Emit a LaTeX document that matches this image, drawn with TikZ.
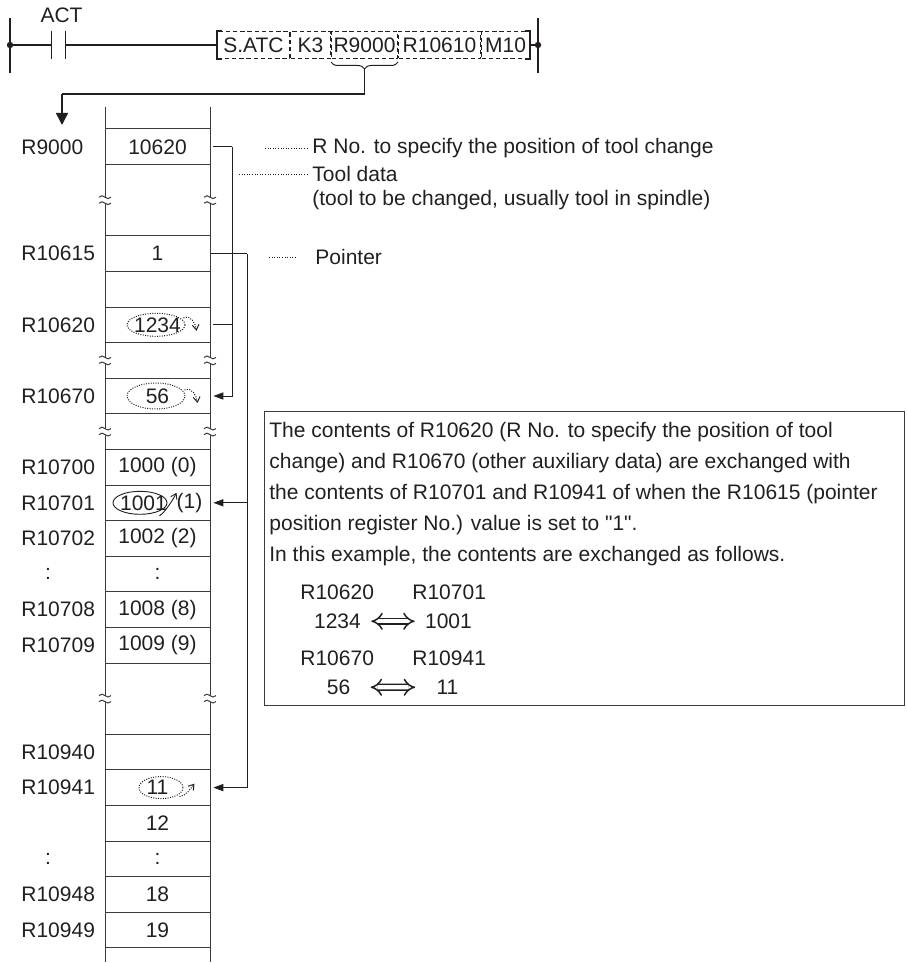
\documentclass[tikz,border=0pt]{standalone}
\usepackage{fontspec}
\setmainfont{Liberation Sans}[Ligatures=TeXOff]
\usepackage{xcolor}
\usepackage{tikz}
\usetikzlibrary{arrows.meta,positioning,calc,decorations.pathreplacing}
\definecolor{atcInk}{HTML}{231F20}
\definecolor{atcLine}{HTML}{3B3B3B}
\tikzset{
  >={Triangle[length=5pt,width=3.6pt]},
  every node/.style={font=\fontsize{10.5}{12.6}\selectfont, text=atcInk, inner sep=0pt},
  rail/.style={draw=atcInk, line width=0.7pt},
  cell/.style={draw=atcInk, dash pattern=on 2.2pt off 1.4pt, line width=0.5pt, minimum height=13.5pt},
  reg/.style={anchor=west},
  val/.style={minimum width=52.5pt, minimum height=17.8pt},
  grid/.style={draw=atcLine, line width=0.5pt},
  link/.style={draw=atcInk, line width=0.5pt},
  leader/.style={draw=atcInk, line width=0.5pt, dash pattern=on 0.4pt off 0.9pt},
  ring/.style={draw=atcInk, line width=0.45pt},
  ringdot/.style={ring, line width=0.5pt, dash pattern=on 0.5pt off 0.7pt},
  hook/.style={-{Straight Barb[length=2.6pt,width=3.4pt]}},
  swap/.style={draw=atcInk, double=white, double distance=2.2pt, line width=0.75pt, Implies-Implies},
  frame/.style={draw=atcLine, line width=0.6pt},
}

\begin{document}
\begin{tikzpicture}[x=0.5pt, y=-0.5pt]
  \useasboundingbox (0,0) rectangle (906,963);

  % ladder rung
  \draw[rail] (10,18) -- (10,73);
  \draw[rail] (538,18) -- (538,73);
  \coordinate (lnode) at (10,45);
  \coordinate (rnode) at (538,45);
  \fill[atcInk] (lnode) circle (1.6pt);
  \fill[atcInk] (rnode) circle (1.6pt);
  \node[minimum width=6.5pt, minimum height=14pt] (contact) at (58.5,45) {};
  \draw[rail] (contact.north west) -- (contact.south west) (contact.north east) -- (contact.south east);
  \node[above=3.5pt of contact, xshift=1.5pt] (act) {ACT};

  \node[cell, anchor=west, minimum width=36pt] (satc) at (217,45) {S.ATC};
  \node[cell, minimum width=20pt, right=0pt of satc] (k3) {K3};
  \node[cell, minimum width=33pt, right=0pt of k3] (r9000) {R9000};
  \node[cell, minimum width=41pt, right=0pt of r9000] (r10610) {R10610};
  \node[cell, minimum width=24pt, right=0pt of r10610] (m10) {M10};
  \draw[rail] ([xshift=2.5pt]satc.north west) -- (satc.north west) -- (satc.south west) -- ([xshift=2.5pt]satc.south west);
  \draw[rail] ([xshift=-2.5pt]m10.north east) -- (m10.north east) -- (m10.south east) -- ([xshift=-2.5pt]m10.south east);
  \draw[rail] (lnode) -- (contact.west);
  \draw[rail] (contact.east) -- (satc.west);
  \draw[rail] (m10.east) -- (rnode);

  % brace down to the table
  \draw[link, decorate, decoration={brace, mirror, amplitude=3.5pt}] ([yshift=-1.5pt]r9000.south west) -- ([yshift=-1.5pt]r9000.south east);
  \coordinate (bt) at ([yshift=-5pt]r9000.south);
  \coordinate (drop) at (62,94);
  \coordinate (dropend) at (62,125);
  \draw[rail] (bt) |- (drop);
  \draw[rail, -{Triangle[length=6pt,width=6pt]}] (drop) -- (dropend);

  % table
  \foreach \k in {0,1,3,4,...,15,17,18,...,23}
    \draw[grid] (105,{129+35.6*\k}) -- (210,{129+35.6*\k});
  \foreach \x in {105,210} {
    \draw[grid] (\x,107) -- (\x,197.2) (\x,203.2) -- (\x,357.4) (\x,363.4) -- (\x,428.6)
                (\x,434.6) -- (\x,695.6) (\x,701.6) -- (\x,962);
    \foreach \y in {200.2,360.4,431.6,698.6} {
      \draw[grid] (\x-6,\y-3) .. controls (\x-2,\y-8) and (\x+2,\y+2) .. (\x+6,\y-3);
      \draw[grid] (\x-6,\y+3) .. controls (\x-2,\y-2) and (\x+2,\y+8) .. (\x+6,\y+3);
    }
  }

  \node[reg] (l9000) at (21,146.8) {R9000};
  \node[val] (c9000) at (157.5,146.8) {10620};
  \node[reg] (l10615) at (21,253.6) {R10615};
  \node[val] (c10615) at (157.5,253.6) {1};
  \node[reg] (l10620) at (21,324.8) {R10620};
  \node[val] (c10620) at (157.5,324.8) {1234};
  \node[reg] (l10670) at (21,396) {R10670};
  \node[val] (c10670) at (157.5,396) {56};
  \node[reg] (l10700) at (21,467.2) {R10700};
  \node[val] (c10700) at (157.5,467.2) {1000 (0)};
  \node[reg] (l10701) at (21,502.8) {R10701};
  \node[val] (c10701) at (157.5,502.8) {};
  \node (n1001) at (143.5,502.8) {1001};
  \node (p1) at (189.5,502.8) {(1)};
  \node[reg] (l10702) at (21,538.4) {R10702};
  \node[val] (c10702) at (157.5,538.4) {1002 (2)};
  \node (ldotsA) at (48,574) {:};
  \node[val] (cdotsA) at (157.5,574) {:};
  \node[reg] (l10708) at (21,609.6) {R10708};
  \node[val] (c10708) at (157.5,609.6) {1008 (8)};
  \node[reg] (l10709) at (21,645.2) {R10709};
  \node[val] (c10709) at (157.5,645.2) {1009 (9)};
  \node[reg] (l10940) at (21,752) {R10940};
  \node[reg] (l10941) at (21,787.6) {R10941};
  \node[val] (c10941) at (157.5,787.6) {11};
  \node[val] (c10942) at (157.5,823.2) {12};
  \node (ldotsB) at (48,858.8) {:};
  \node[val] (cdotsB) at (157.5,858.8) {:};
  \node[reg] (l10948) at (21,894.4) {R10948};
  \node[val] (c10948) at (157.5,894.4) {18};
  \node[reg] (l10949) at (21,930) {R10949};
  \node[val] (c10949) at (157.5,930) {19};

  % marked values
  \draw[ringdot] ([xshift=-0.75pt]c10620.center) ellipse [x radius=14.5pt, y radius=5.75pt];
  \draw[ringdot] ([xshift=-0.75pt]c10670.center) ellipse [x radius=14.5pt, y radius=6.5pt];
  \draw[ring] ([xshift=-1.75pt]n1001.center) ellipse [x radius=13.5pt, y radius=5.75pt];
  \draw[ringdot] ([xshift=1.75pt]c10941.center) ellipse [x radius=11pt, y radius=5.5pt];
  \draw[ringdot, hook] ($(c10620.center)+(26,-7)$) .. controls +(8,-3) and +(-1,-7) .. ($(c10620.center)+(39,6)$);
  \draw[ringdot, hook] ($(c10670.center)+(27,-6)$) .. controls +(8,-3) and +(-1,-7) .. ($(c10670.center)+(40,7)$);
  \draw[ring, hook] ($(n1001.center)+(16,13)$) .. controls +(6,-4) and +(-3,6) .. ($(n1001.center)+(33,-10)$);
  \draw[ringdot, hook] ($(c10941.center)+(22,9)$) .. controls +(7,-1) and +(-4,5) .. ($(c10941.center)+(37,-4)$);

  % links
  \coordinate (tieA) at (232,146.8);
  \coordinate (tieB) at (247,253.6);
  \draw[link, shorten <=1.5pt] (c9000.east) -- (tieA);
  \draw[link, ->, shorten >=1.5pt] (tieA) |- (c10670.east);
  \draw[link, shorten >=1.5pt] (tieA |- c10620.east) -- (c10620.east);
  \draw[link, shorten <=0.5pt] (c10615.east) -- (tieB);
  \draw[link, ->, shorten >=1.5pt] (tieB) |- (c10941.east);
  \draw[link, ->, shorten >=1.5pt] (tieB |- c10701.east) -- (c10701.east);

  % notes
  \node[anchor=west] (rno) at (312,148) {R No. to specify the position of tool change};
  \node[anchor=west] (tdata) at (312,174) {Tool data};
  \node[anchor=west] (tnote) at (312,200) {(tool to be changed, usually tool in spindle)};
  \node[anchor=west] (ptr) at (315,257) {Pointer};
  \coordinate (rnoL) at (265,148);
  \coordinate (tdataL) at (239,174);
  \coordinate (ptrL) at (269,257);
  \draw[leader] (rnoL) -- ([xshift=-2.5pt]rno.west);
  \draw[leader] (tdataL) -- ([xshift=-2.5pt]tdata.west);
  \draw[leader] (ptrL) -- ([xshift=-9pt]ptr.west);

  \node[frame, anchor=north west, minimum width=320pt, minimum height=147pt] (frame) at (264,411) {};
  \node[anchor=base west, align=left, font=\fontsize{10.5}{15.5}\selectfont] (para) at (269,561.5)
    {The contents of R10620 (R No. to specify the position of tool\\
     change) and R10670 (other auxiliary data) are exchanged with\\
     the contents of R10701 and R10941 of when the R10615 (pointer\\
     position register No.) value is set to "1".\\
     In this example, the contents are exchanged as follows.};
  \node[anchor=base west] (xa1) at (300,599.5) {R10620};
  \node[anchor=base west] (xb1) at (412,599.5) {R10701};
  \node[anchor=base] (xa2) at (337.5,628.5) {1234};
  \node[anchor=base] (xb2) at (448.5,628.5) {1001};
  \node[anchor=base west] (xa3) at (300,665.5) {R10670};
  \node[anchor=base west] (xb3) at (412,665.5) {R10941};
  \node[anchor=base] (xa4) at (338.5,694.5) {56};
  \node[anchor=base] (xb4) at (447.5,694.5) {11};
  \draw[swap, shorten <=5pt, shorten >=5pt] (xa2) -- (xb2);
  \draw[swap, shorten <=10pt, shorten >=10.5pt] (xa4) -- (xb4);
\end{tikzpicture}
\end{document}
